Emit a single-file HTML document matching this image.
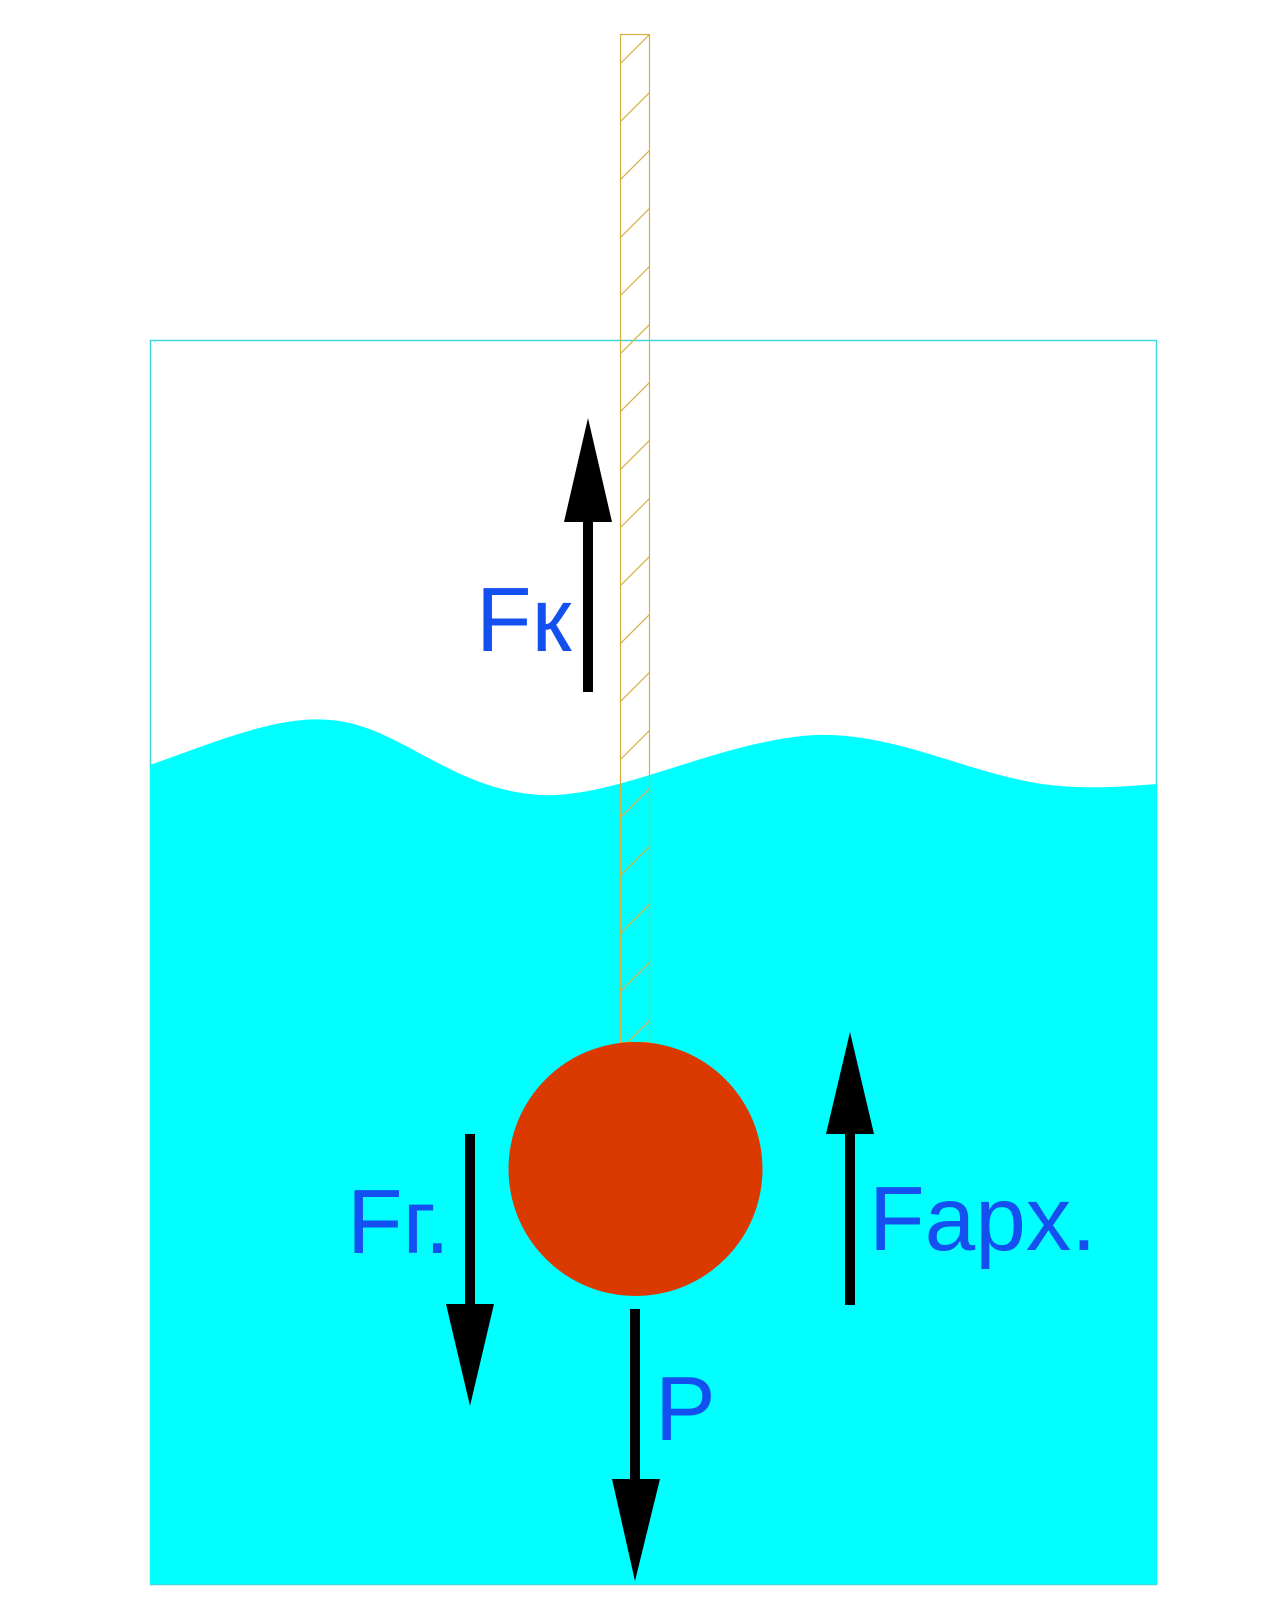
<!DOCTYPE html>
<html><head><meta charset="utf-8"><style>
html,body{margin:0;padding:0;background:#fff;}
svg{display:block;}
text{font-family:"Liberation Sans",sans-serif;fill:#1450f0;font-size:91px;}
</style></head><body>
<svg width="1280" height="1600" viewBox="0 0 1280 1600" xmlns="http://www.w3.org/2000/svg">
<defs>
<pattern id="h" patternUnits="userSpaceOnUse" width="30" height="58" x="620" y="34">
<line x1="0" y1="30" x2="30" y2="0" stroke="#d4b040" stroke-width="1.2"/>
</pattern>
</defs>
<rect x="150.5" y="340.5" width="1006" height="1244" fill="none" stroke="#40d8e0" stroke-width="1.5"/>
<path d="M150 765 C 220 740, 280 715, 330 720 C 400 725, 450 790, 541 795 C 620 798, 720 740, 816 735 C 900 732, 980 780, 1060 786 C 1100 789, 1130 786, 1157 784 L1157 1584 L150 1584 Z" fill="#00ffff"/>
<rect x="620.5" y="34.5" width="29" height="1008" fill="url(#h)" stroke="#d4b040" stroke-width="1.2"/>
<circle cx="635.5" cy="1169" r="127" fill="#da3a00"/>
<g fill="#000">
<rect x="583" y="518" width="10" height="174"/>
<polygon points="588,418 564,522 612,522"/>
<rect x="465" y="1134" width="10" height="174"/>
<polygon points="470,1406 446,1304 494,1304"/>
<rect x="630" y="1309" width="10" height="174"/>
<polygon points="635,1581 612,1479 660,1479"/>
<rect x="845" y="1130" width="10" height="175"/>
<polygon points="850,1032 826,1134 874,1134"/>
</g>
<text x="476" y="651">Fк</text>
<text x="347" y="1253">Fг.</text>
<text x="869" y="1250">Fapx.</text>
<text x="655" y="1440">P</text>
</svg>
</body></html>
